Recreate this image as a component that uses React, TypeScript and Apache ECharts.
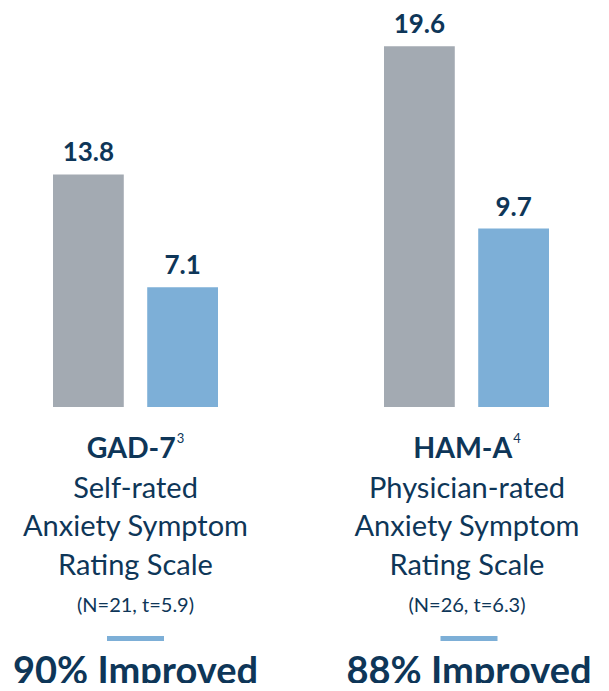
import React, { useEffect, useRef } from "react";
import * as echarts from "echarts";

const groups = ["GAD-7", "HAM-A"];
const superscripts = ["3", "4"];
const baselineValues = [13.8, 19.6];
const endpointValues = [7.1, 9.7];
const descLines = [
  ["Self-rated", "Anxiety Symptom", "Rating Scale"],
  ["Physician-rated", "Anxiety Symptom", "Rating Scale"],
];
const stats = ["(N=21, t=5.9)", "(N=26, t=6.3)"];
const improved = ["90% Improved", "88% Improved"];

const NAVY = "#0E3658";
const GRAY = "#A3AAB2";
const BLUE = "#7DAFD7";
const FONT = "Lato, 'Open Sans', sans-serif";

export default function App() {
  const ref = useRef<HTMLDivElement>(null);
  useEffect(() => {
    if (!ref.current) return;
    const chart = echarts.init(ref.current, null, { renderer: "svg" });
    const gridDefs = [
      { left: 53, width: 165, top: 70, bottom: 284 },
      { left: 384, width: 165, top: 39, bottom: 284 },
    ];
    const centers = [135.5, 467];
    const labelCfg = {
      show: true,
      position: "top",
      distance: 10,
      color: NAVY,
      fontFamily: FONT,
      fontWeight: "bold",
      fontSize: 26,
    };
    const series: any[] = [];
    groups.forEach((g, i) => {
      series.push({
        type: "bar",
        name: "Baseline",
        xAxisIndex: i,
        yAxisIndex: i,
        data: [baselineValues[i]],
        barWidth: 71,
        barGap: "33%",
        itemStyle: { color: GRAY },
        label: labelCfg,
      });
      series.push({
        type: "bar",
        name: "Endpoint",
        xAxisIndex: i,
        yAxisIndex: i,
        data: [endpointValues[i]],
        barWidth: 71,
        barGap: "33%",
        itemStyle: { color: BLUE },
        label: labelCfg,
      });
    });
    const graphic: any[] = [];
    groups.forEach((g, i) => {
      const cx = centers[i];
      graphic.push({
        type: "text",
        x: cx,
        y: 447,
        style: {
          text: `{b|${g}}{sup|${superscripts[i]}}`,
          align: "center",
          verticalAlign: "middle",
          rich: {
            b: { fontFamily: FONT, fontWeight: "bold", fontSize: 28.5, fill: NAVY, color: NAVY, lineHeight: 32 },
            sup: { fontFamily: FONT, fontSize: 13, color: NAVY, fill: NAVY, verticalAlign: "top", lineHeight: 32, padding: [0, 0, 12, 1] },
          },
        },
      });
      const ys = [486, 524.5, 563];
      descLines[i].forEach((t, j) => {
        graphic.push({
          type: "text",
          x: cx,
          y: ys[j],
          style: {
            text: t,
            align: "center",
            verticalAlign: "middle",
            fontFamily: FONT,
            fontSize: 29,
            fill: NAVY,
          },
        });
      });
      graphic.push({
        type: "text",
        x: cx,
        y: 604,
        style: {
          text: stats[i],
          align: "center",
          verticalAlign: "middle",
          fontFamily: FONT,
          fontSize: 20,
          fill: NAVY,
        },
      });
      graphic.push({
        type: "rect",
        shape: { x: cx - 28.5 + (i === 1 ? 2 : 0), y: 636, width: 57, height: 5 },
        style: { fill: BLUE },
      });
      graphic.push({
        type: "text",
        x: cx + (i === 1 ? 2 : 0),
        y: 669,
        style: {
          text: improved[i],
          align: "center",
          verticalAlign: "middle",
          fontFamily: FONT,
          fontWeight: "bold",
          fontSize: 38,
          fill: NAVY,
        },
      });
    });
    chart.setOption({
      animation: false,
      grid: gridDefs,
      xAxis: groups.map((g, i) => ({
        type: "category",
        gridIndex: i,
        data: [g],
        show: false,
      })),
      yAxis: groups.map((g, i) => ({
        type: "value",
        gridIndex: i,
        min: 0,
        max: 20,
        show: false,
      })),
      series,
      graphic,
    });
    return () => chart.dispose();
  }, []);
  return <div ref={ref} style={{ width: 609, height: 691, margin: -8 }} />;
}
